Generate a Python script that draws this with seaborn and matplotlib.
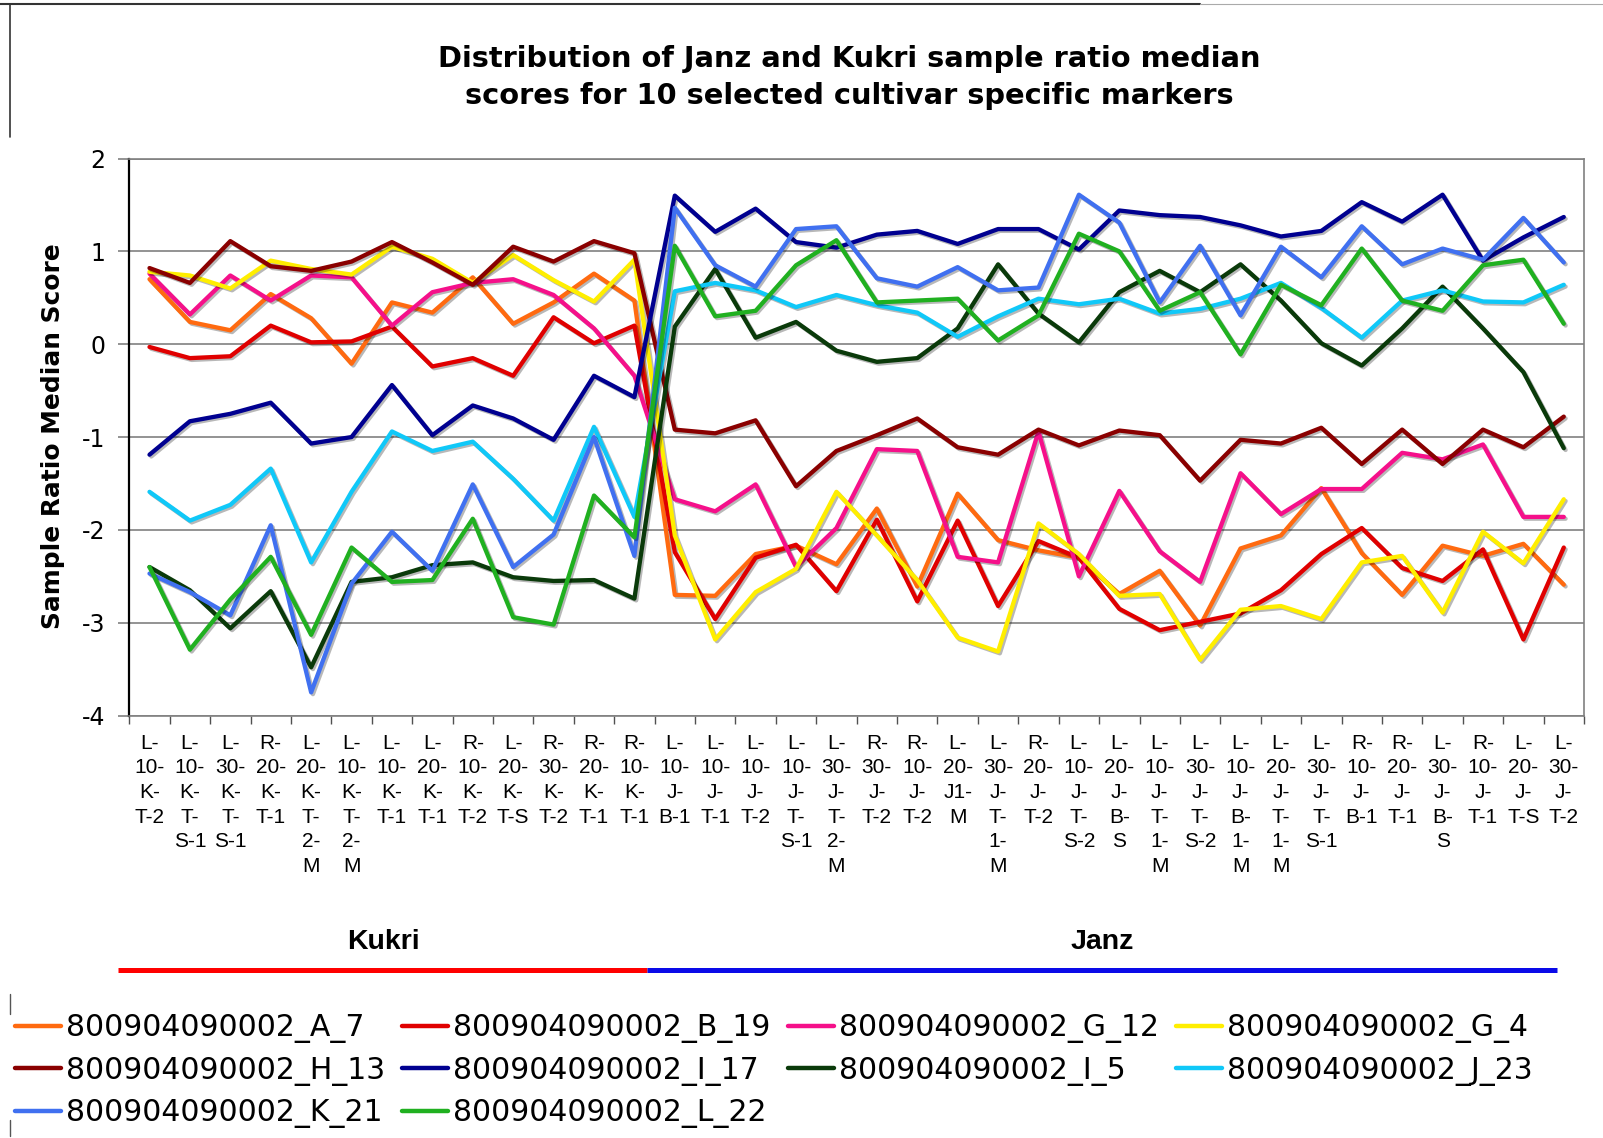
import numpy as np
import pandas as pd
import matplotlib
matplotlib.use("Agg")
import matplotlib.pyplot as plt
import matplotlib.patheffects as pe
from matplotlib.lines import Line2D
import seaborn as sns

# ---------------- data ----------------
categories = [
    "L-\n10-\nK-\nT-2", "L-\n10-\nK-\nT-\nS-1", "L-\n30-\nK-\nT-\nS-1", "R-\n20-\nK-\nT-1",
    "L-\n20-\nK-\nT-\n2-\nM", "L-\n10-\nK-\nT-\n2-\nM", "L-\n10-\nK-\nT-1", "L-\n20-\nK-\nT-1",
    "R-\n10-\nK-\nT-2", "L-\n20-\nK-\nT-S", "R-\n30-\nK-\nT-2", "R-\n20-\nK-\nT-1",
    "R-\n10-\nK-\nT-1", "L-\n10-\nJ-\nB-1", "L-\n10-\nJ-\nT-1", "L-\n10-\nJ-\nT-2",
    "L-\n10-\nJ-\nT-\nS-1", "L-\n30-\nJ-\nT-\n2-\nM", "R-\n30-\nJ-\nT-2", "R-\n10-\nJ-\nT-2",
    "L-\n20-\nJ1-\nM", "L-\n30-\nJ-\nT-\n1-\nM", "R-\n20-\nJ-\nT-2", "L-\n10-\nJ-\nT-\nS-2",
    "L-\n20-\nJ-\nB-\nS", "L-\n10-\nJ-\nT-\n1-\nM", "L-\n30-\nJ-\nT-\nS-2", "L-\n10-\nJ-\nB-\n1-\nM",
    "L-\n20-\nJ-\nT-\n1-\nM", "L-\n30-\nJ-\nT-\nS-1", "R-\n10-\nJ-\nB-1", "R-\n20-\nJ-\nT-1",
    "L-\n30-\nJ-\nB-\nS", "R-\n10-\nJ-\nT-1", "L-\n20-\nJ-\nT-S", "L-\n30-\nJ-\nT-2",
]

markers = ["800904090002_A_7", "800904090002_B_19", "800904090002_G_12", "800904090002_G_4",
           "800904090002_H_13", "800904090002_I_17", "800904090002_I_5", "800904090002_J_23",
           "800904090002_K_21", "800904090002_L_22"]

A_7 = [0.70, 0.24, 0.15, 0.54, 0.28, -0.21, 0.45, 0.34, 0.72, 0.22, 0.45, 0.76, 0.47,
       -2.70, -2.71, -2.26, -2.17, -2.37, -1.77, -2.61, -1.61, -2.11, -2.22, -2.30, -2.69,
       -2.44, -3.03, -2.20, -2.06, -1.55, -2.25, -2.70, -2.17, -2.28, -2.15, -2.59]
B_19 = [-0.03, -0.15, -0.13, 0.20, 0.02, 0.03, 0.19, -0.24, -0.15, -0.34, 0.29, 0.01, 0.20,
        -2.24, -2.96, -2.30, -2.16, -2.66, -1.89, -2.77, -1.90, -2.82, -2.12, -2.30, -2.85,
        -3.08, -2.99, -2.90, -2.65, -2.26, -1.98, -2.41, -2.55, -2.21, -3.18, -2.19]
G_12 = [0.76, 0.32, 0.74, 0.47, 0.74, 0.72, 0.20, 0.56, 0.66, 0.70, 0.53, 0.17, -0.34,
        -1.67, -1.80, -1.51, -2.40, -1.98, -1.13, -1.15, -2.29, -2.35, -0.94, -2.50, -1.58,
        -2.23, -2.56, -1.39, -1.83, -1.56, -1.56, -1.17, -1.24, -1.08, -1.86, -1.86]
G_4 = [0.78, 0.74, 0.60, 0.90, 0.81, 0.75, 1.05, 0.92, 0.66, 0.96, 0.69, 0.46, 0.91,
       -2.06, -3.18, -2.67, -2.42, -1.59, -2.06, -2.54, -3.16, -3.31, -1.93, -2.26, -2.71,
       -2.69, -3.40, -2.86, -2.82, -2.96, -2.35, -2.28, -2.89, -2.02, -2.36, -1.67]
H_13 = [0.82, 0.66, 1.11, 0.84, 0.79, 0.89, 1.10, 0.88, 0.64, 1.05, 0.89, 1.11, 0.98,
        -0.92, -0.96, -0.82, -1.53, -1.15, -0.98, -0.80, -1.11, -1.19, -0.92, -1.09, -0.93,
        -0.98, -1.47, -1.03, -1.07, -0.90, -1.29, -0.92, -1.29, -0.92, -1.11, -0.78]
I_17 = [-1.19, -0.83, -0.75, -0.63, -1.07, -1.00, -0.44, -0.98, -0.66, -0.80, -1.03, -0.34, -0.57,
        1.60, 1.21, 1.46, 1.10, 1.04, 1.18, 1.22, 1.08, 1.24, 1.24, 1.02, 1.44,
        1.39, 1.37, 1.28, 1.16, 1.22, 1.53, 1.32, 1.61, 0.90, 1.15, 1.37]
I_5 = [-2.40, -2.65, -3.06, -2.66, -3.48, -2.56, -2.51, -2.38, -2.35, -2.51, -2.55, -2.54, -2.74,
       0.19, 0.81, 0.07, 0.24, -0.07, -0.19, -0.15, 0.17, 0.86, 0.33, 0.02, 0.56,
       0.79, 0.56, 0.86, 0.47, 0.01, -0.23, 0.17, 0.62, 0.17, -0.30, -1.12]
J_23 = [-1.59, -1.90, -1.73, -1.34, -2.35, -1.59, -0.94, -1.15, -1.05, -1.45, -1.90, -0.89, -1.86,
        0.57, 0.66, 0.58, 0.40, 0.53, 0.42, 0.34, 0.08, 0.30, 0.49, 0.43, 0.49,
        0.33, 0.38, 0.49, 0.66, 0.39, 0.07, 0.47, 0.58, 0.46, 0.45, 0.64]
K_21 = [-2.47, -2.67, -2.92, -1.95, -3.75, -2.58, -2.02, -2.44, -1.51, -2.40, -2.05, -1.00, -2.28,
        1.47, 0.85, 0.62, 1.24, 1.27, 0.71, 0.62, 0.83, 0.58, 0.61, 1.61, 1.31,
        0.45, 1.06, 0.31, 1.05, 0.72, 1.27, 0.86, 1.03, 0.91, 1.36, 0.88]
L_22 = [-2.40, -3.29, -2.75, -2.29, -3.13, -2.19, -2.56, -2.54, -1.88, -2.94, -3.02, -1.63, -2.08,
        1.06, 0.30, 0.36, 0.85, 1.12, 0.45, 0.47, 0.49, 0.04, 0.31, 1.19, 1.00,
        0.36, 0.56, -0.11, 0.64, 0.42, 1.03, 0.47, 0.36, 0.85, 0.91, 0.22]

series = [A_7, B_19, G_12, G_4, H_13, I_17, I_5, J_23, K_21, L_22]
colors = ["#FF6A10", "#E00000", "#F5108A", "#FFEE00", "#8A0000",
          "#000090", "#0A3A0A", "#10C8F8", "#4070F0", "#20B020"]

y_ticks = [-4, -3, -2, -1, 0, 1, 2]
y_ticklabels = ["-4", "-3", "-2", "-1", "0", "1", "2"]
title = "Distribution of Janz and Kukri sample ratio median\nscores for 10 selected cultivar specific markers"
ylabel = "Sample Ratio Median Score"
groups = ["Kukri", "Janz"]

# ---------------- figure ----------------
sns.set_style("white")
plt.rcParams['font.family'] = ['DejaVu Sans']
plt.rcParams['axes.unicode_minus'] = False
plt.rcParams['text.color'] = 'black'
plt.rcParams['xtick.color'] = 'black'
plt.rcParams['ytick.color'] = 'black'
plt.rcParams['xtick.labelcolor'] = 'black'
plt.rcParams['ytick.labelcolor'] = 'black'

W, H = 1603, 1138
fig = plt.figure(figsize=(W / 100, H / 100), dpi=100)
L, R, T, B = 129.3, 1584.0, 158.5, 715.6
ax = fig.add_axes([L / W, 1 - B / H, (R - L) / W, (B - T) / H])

rows = []
for name, vals in zip(markers, series):
    for i, v in enumerate(vals):
        rows.append((name, i, v))
df = pd.DataFrame(rows, columns=["marker", "pos", "score"])

sns.lineplot(data=df, x="pos", y="score", hue="marker", hue_order=markers,
             palette=dict(zip(markers, colors)), linewidth=3.1, legend=False,
             estimator=None, sort=False, ax=ax)

for ln in ax.lines:
    ln.set_solid_joinstyle("round")
    ln.set_path_effects([pe.SimpleLineShadow(offset=(1.3, -1.3), shadow_color="black", alpha=0.28),
                         pe.Normal()])

ax.set_xlim(-0.5, len(categories) - 0.5)
ax.set_ylim(-4, 2)
ax.set_xlabel("")
ax.set_ylabel("")

ax.set_yticks(y_ticks)
ax.set_yticklabels(y_ticklabels, fontsize=17, color="black")
ax.yaxis.grid(True, color="#808080", linewidth=1.2)
ax.xaxis.grid(False)
ax.tick_params(axis="y", length=8, width=1.2, color="#808080", pad=9, left=True)

ax.set_xticks(range(len(categories)))
ax.set_xticklabels(categories, fontfamily="Liberation Sans", fontsize=15, linespacing=1.38,
                   color="black")
ax.tick_params(axis="x", which="major", length=0, pad=13)
ax.set_xticks(np.arange(-0.5, len(categories) + 0.5, 1), minor=True)
ax.tick_params(axis="x", which="minor", length=6, width=1, color="#505050", direction="out", bottom=True)

for s in ["top", "right", "bottom"]:
    ax.spines[s].set_color("#808080")
    ax.spines[s].set_linewidth(1.2)
ax.spines["left"].set_color("black")
ax.spines["left"].set_linewidth(1.6)

# title & y label
fig.text(849 / W, 1 - 77.5 / H, title, ha="center", va="center", fontsize=20.8,
         fontweight="bold", linespacing=1.42, color="black")
fig.text(53 / W, 1 - 436 / H, ylabel, ha="center", va="center", rotation=90,
         fontsize=17.9, fontweight="bold", color="black")

# group labels & bars
fig.text(383 / W, 1 - 942 / H, groups[0], ha="center", va="center", fontsize=20.5,
         fontweight="bold", fontfamily="Liberation Sans", color="black")
fig.text(1102 / W, 1 - 942 / H, groups[1], ha="center", va="center", fontsize=20.5,
         fontweight="bold", fontfamily="Liberation Sans", color="black")
fig.add_artist(Line2D([118 / W, 647 / W], [1 - 970 / H] * 2, color="#FF0000",
                      linewidth=3.6, solid_capstyle="butt"))
fig.add_artist(Line2D([647 / W, 1557 / W], [1 - 970 / H] * 2, color="#0A0AE8",
                      linewidth=3.6, solid_capstyle="butt"))

# frame remnants
fig.add_artist(Line2D([0, 1200 / W], [1 - 4 / H] * 2, color="#333333", linewidth=1.5))
fig.add_artist(Line2D([1200 / W, 1], [1 - 4 / H] * 2, color="#AAAAAA", linewidth=0.8))
fig.add_artist(Line2D([10 / W] * 2, [1 - 4 / H, 1 - 137 / H], color="#333333", linewidth=1.2))
fig.add_artist(Line2D([10 / W] * 2, [1 - 994 / H, 1 - 1014 / H], color="#555555", linewidth=1.0))
fig.add_artist(Line2D([10 / W] * 2, [1 - 1120 / H, 1 - 1136 / H], color="#555555", linewidth=1.0))

# legend (row-major order in 4 columns)
handles = [Line2D([], [], color=c, linewidth=3.2) for c in colors]
order = [0, 4, 8, 1, 5, 9, 2, 6, 3, 7]
leg = fig.legend([handles[i] for i in order], [markers[i] for i in order], ncol=4,
                 loc="upper left", bbox_to_anchor=(15 / W, 1 - 1013 / H), frameon=False,
                 fontsize=21.5, handlelength=1.54, handletextpad=0.17, columnspacing=0.57,
                 labelspacing=0.42, borderpad=0, borderaxespad=0)
for t in leg.get_texts():
    t.set_color("black")

fig.savefig("out.png", dpi=100, facecolor="white")
